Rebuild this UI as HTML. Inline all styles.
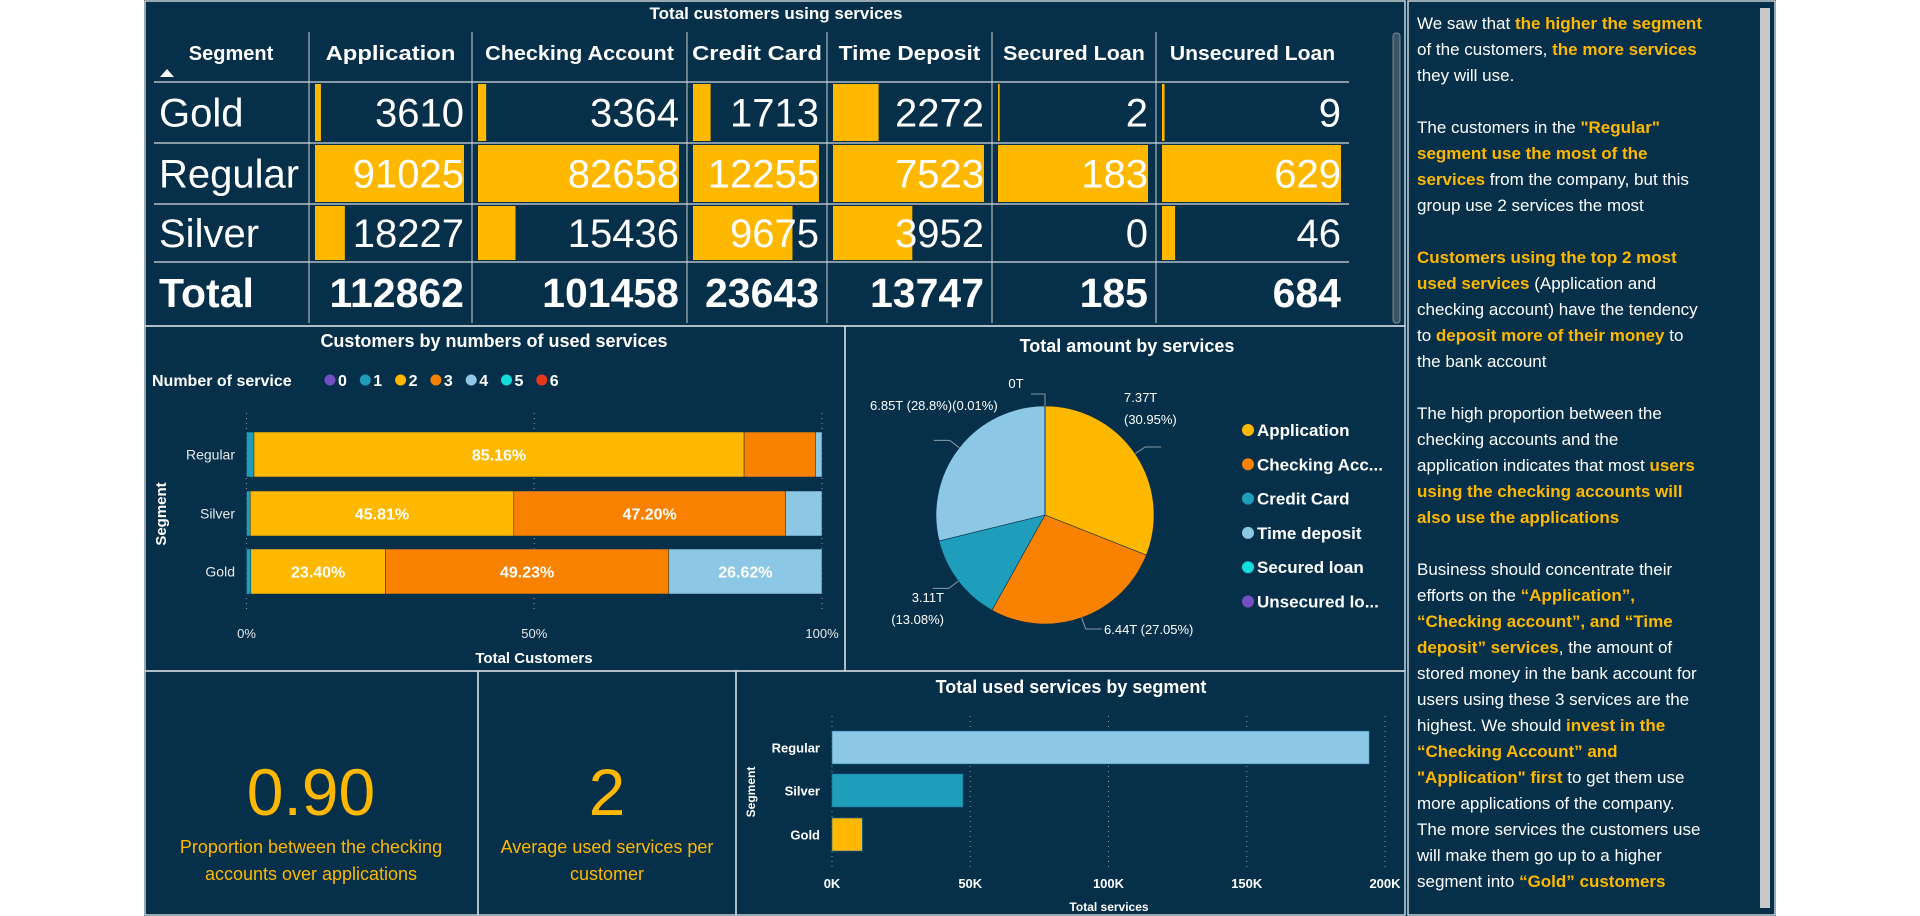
<!DOCTYPE html>
<html><head><meta charset="utf-8">
<style>
html,body{margin:0;padding:0;background:#fff;width:1920px;height:916px;overflow:hidden}
#dash{position:absolute;left:144px;top:0;width:1632px;height:916px;background:#06304a}
svg{position:absolute;left:0;top:0}
#notes{position:absolute;left:1417px;top:11px;width:345px;font-family:"Liberation Sans",sans-serif;font-size:17px;line-height:26px;color:#fff;white-space:nowrap}
#notes b{color:#ffb800}
</style></head>
<body>
<div id="dash"></div>
<svg id="chart" width="1920" height="916"
  font-family="'Liberation Sans', sans-serif">
  <g id="frames" fill="none" stroke="#c9d1d8" stroke-width="1.5">
    <rect x="145" y="1" width="1260" height="325"/>
    <rect x="145" y="326" width="700" height="345"/>
    <rect x="845" y="326" width="560" height="345"/>
    <rect x="145" y="671" width="333" height="244"/>
    <rect x="478" y="671" width="258" height="244"/>
    <rect x="736" y="671" width="669" height="244"/>
    <rect x="1408" y="1" width="367" height="914"/>
  </g>
  <rect x="1760" y="8" width="10" height="900" fill="#c8c8c8"/>
  <rect x="1393" y="33" width="7" height="290" rx="3" fill="#3c5566" stroke="#7a8a96"/>
  <g id="table"></g>
  <g id="stack"></g>
  <g id="pie"></g>
  <g id="kpis"></g>
  <g id="bars"></g>
</svg>
<div id="notes">
We saw that <b>the higher the segment</b><br>
of the customers, <b>the more services</b><br>
they will use.<br><br>
The customers in the <b>"Regular"</b><br>
<b>segment use the most of the</b><br>
<b>services</b> from the company, but this<br>
group use 2 services the most<br><br>
<b>Customers using the top 2 most</b><br>
<b>used services</b> (Application and<br>
checking account) have the tendency<br>
to <b>deposit more of their money</b> to<br>
the bank account<br><br>
The high proportion between the<br>
checking accounts and the<br>
application indicates that most <b>users</b><br>
<b>using the checking accounts will</b><br>
<b>also use the applications</b><br><br>
Business should concentrate their<br>
efforts on the <b>“Application”,</b><br>
<b>“Checking account”, and “Time</b><br>
<b>deposit” services</b>, the amount of<br>
stored money in the bank account for<br>
users using these 3 services are the<br>
highest. We should <b>invest in the</b><br>
<b>“Checking Account” and</b><br>
<b>"Application" first</b> to get them use<br>
more applications of the company.<br>
The more services the customers use<br>
will make them go up to a higher<br>
segment into <b>“Gold” customers</b>
</div>
<script>
// ---------- DATA ----------
const tableSegments = ["Gold", "Regular", "Silver"];
const tableServices = ["Application", "Checking Account", "Credit Card", "Time Deposit", "Secured Loan", "Unsecured Loan"];
const tableGold = [3610, 3364, 1713, 2272, 2, 9];
const tableRegular = [91025, 82658, 12255, 7523, 183, 629];
const tableSilver = [18227, 15436, 9675, 3952, 0, 46];
const tableTotal = [112862, 101458, 23643, 13747, 185, 684];

const stackSegments = ["Regular", "Silver", "Gold"];
const stackKeys = ["0", "1", "2", "3", "4", "5", "6"];
const stackRegular = [0, 1.3, 85.16, 12.4, 1.14, 0, 0];
const stackSilver = [0, 0.64, 45.81, 47.20, 6.35, 0, 0];
const stackGold = [0, 0.75, 23.40, 49.23, 26.62, 0, 0];
const stackTicks = [0, 50, 100];

const pieLabels = ["Application", "Checking Acc...", "Credit Card", "Time deposit", "Secured loan", "Unsecured lo..."];
const pieValues = [7.37, 6.44, 3.11, 6.85, 0.002, 0.001];
const piePercents = ["30.95%", "27.05%", "13.08%", "28.8%", "0.01%", "0%"];

const barSegments = ["Regular", "Silver", "Gold"];
const barValues = [194273, 47336, 10970];
const barTicks = [0, 50000, 100000, 150000, 200000];

const kpiRatio = "0.90";
const kpiAvg = "2";

// ---------- HELPERS ----------
const NS = "http://www.w3.org/2000/svg";
function mk(parent, tag, attrs, text) {
  const e = document.createElementNS(NS, tag);
  for (const k in attrs) e.setAttribute(k, attrs[k]);
  if (text !== undefined) e.textContent = text;
  parent.appendChild(e);
  return e;
}
const YEL = "#ffb800", NARROW = "'Liberation Sans Narrow','Liberation Sans',sans-serif";

// ---------- TABLE ----------
(function () {
  const g = document.getElementById("table");
  const cols = [154, 309, 472, 687, 827, 992, 1156, 1349];
  const lines = [82, 143, 204, 262];
  let t = mk(g, "text", {x: 776, y: 19, fill: "#fff", "font-size": 17, "font-weight": "bold", "text-anchor": "middle", "font-family": NARROW}, "Total customers using services");
  
  
  for (let i = 1; i < cols.length - 1; i++) {
    const l = mk(g, "line", {x1: cols[i], x2: cols[i], y1: 32, y2: 323, stroke: "#aab4bc", "stroke-width": 1.2});
    
    
  }
  lines.forEach(y => {
    const l = mk(g, "line", {x1: cols[0], x2: cols[7], y1: y, y2: y, stroke: "#d5d9dc", "stroke-width": 1.2});
    
    
  });
  t = mk(g, "text", {x: 231, y: 60, fill: "#fff", "font-size": 20, "font-weight": "bold", "text-anchor": "middle"}, "Segment");
  
  
  const tri = mk(g, "polygon", {points: "160,77 174,77 167,69", fill: "#fff"});
  
  
  tableServices.forEach((s, i) => {
    const h = mk(g, "text", {x: (cols[i + 1] + cols[i + 2]) / 2, y: 60, fill: "#fff", "font-size": 20, "font-weight": "bold", "text-anchor": "middle", textLength: Math.min(cols[i + 2] - cols[i + 1] - 10, s.length * 11.8), lengthAdjust: "spacingAndGlyphs"}, s);
    
    
  });
  const rows = [tableGold, tableRegular, tableSilver];
  const rowTop = [82, 143, 204], rowBot = [143, 204, 262];
  rows.forEach((vals, r) => {
    const mid = (rowTop[r] + rowBot[r]) / 2;
    const lab = mk(g, "text", {x: 159, y: mid + 14, fill: "#fff", "font-size": 40}, tableSegments[r]);
    
    
    vals.forEach((v, c) => {
      const x0 = cols[c + 1], x1 = cols[c + 2];
      const mx = Math.max(tableGold[c], tableRegular[c], tableSilver[c]);
      const w = (x1 - x0 - 14) * v / mx;
      const bar = mk(g, "rect", {x: x0 + 6, y: rowTop[r] + 2, width: Math.max(w, v > 0 ? 1 : 0), height: rowBot[r] - rowTop[r] - 4, fill: YEL});
      
      
      const tx = mk(g, "text", {x: x1 - 8, y: mid + 14, fill: "#fff", "font-size": 40, "text-anchor": "end"}, String(v));
      
      
    });
  });
  const tl = mk(g, "text", {x: 159, y: 307, fill: "#fff", "font-size": 41, "font-weight": "bold"}, "Total");
  
  
  tableTotal.forEach((v, c) => {
    const tx = mk(g, "text", {x: cols[c + 2] - 8, y: 307, fill: "#fff", "font-size": 41, "font-weight": "bold", "text-anchor": "end"}, String(v));
    
    
  });
})();

// ---------- STACKED BAR ----------
(function () {
  const g = document.getElementById("stack");
  const colors = ["#744ec2", "#1f9ebc", "#ffb800", "#f98100", "#8dc7e6", "#14dcdc", "#e8361a"];
  const x = p => 246.5 + p / 100 * 575.5;
  const rowsY = [432, 491, 549], bh = 45;
  let t = mk(g, "text", {x: 494, y: 347, fill: "#fff", "font-size": 18, "font-weight": "bold", "text-anchor": "middle", "font-family": NARROW}, "Customers by numbers of used services");
  
  
  t = mk(g, "text", {x: 152, y: 386, fill: "#fff", "font-size": 16, "font-weight": "bold", "font-family": NARROW}, "Number of service");
  
  
  stackKeys.forEach((k, i) => {
    const cx = 330 + i * 35.3;
    const c = mk(g, "circle", {cx: cx, cy: 380, r: 5.5, fill: colors[i]});
    
    
    const tx = mk(g, "text", {x: cx + 8, y: 386, fill: "#fff", "font-size": 16, "font-weight": "bold"}, k);
    
    
  });
  stackTicks.forEach(v => {
    const l = mk(g, "line", {x1: x(v), x2: x(v), y1: 413, y2: 613, stroke: "#8a9aa6", "stroke-dasharray": "1,4"});
    
    
    const tx = mk(g, "text", {x: x(v), y: 638, fill: "#e8e8e8", "font-size": 13, "text-anchor": "middle"}, v + "%");
    
    
  });
  const data = [stackRegular, stackSilver, stackGold];
  data.forEach((vals, r) => {
    let acc = 0;
    const y = rowsY[r];
    const lab = mk(g, "text", {x: 235, y: y + bh / 2 + 5, fill: "#e8e8e8", "font-size": 14, "text-anchor": "end"}, stackSegments[r]);
    
    
    vals.forEach((v, i) => {
      if (v <= 0) return;
      const rc = mk(g, "rect", {x: x(acc), y: y, width: x(acc + v) - x(acc), height: bh, fill: colors[i], stroke: "#06304a", "stroke-width": 0.5});
      
      
      if (v > 15) {
        const tx = mk(g, "text", {x: (x(acc) + x(acc + v)) / 2, y: y + bh / 2 + 6, fill: "#fff", "font-size": 16, "font-weight": "bold", "text-anchor": "middle"}, v.toFixed(2) + "%");
        
        
      }
      acc += v;
    });
  });
  t = mk(g, "text", {x: 534, y: 663, fill: "#fff", "font-size": 15, "font-weight": "bold", "text-anchor": "middle", "font-family": NARROW}, "Total Customers");
  
  
  t = mk(g, "text", {x: 0, y: 0, fill: "#fff", "font-size": 15, "font-weight": "bold", "text-anchor": "middle", transform: "translate(166,514) rotate(-90)"}, "Segment");
  
  
})();

// ---------- PIE ----------
(function () {
  const g = document.getElementById("pie");
  const colors = ["#ffb800", "#f98100", "#1f9ebc", "#8dc7e6", "#14dcdc", "#744ec2"];
  const cx = 1045, cy = 515, r = 109;
  const total = pieValues.reduce((a, b) => a + b, 0);
  let t = mk(g, "text", {x: 1127, y: 352, fill: "#fff", "font-size": 18, "font-weight": "bold", "text-anchor": "middle", "font-family": NARROW}, "Total amount by services");
  
  
  let a0 = -Math.PI / 2;
  const mids = [];
  pieValues.forEach((v, i) => {
    const a1 = a0 + v / total * 2 * Math.PI;
    const large = a1 - a0 > Math.PI ? 1 : 0;
    const d = `M${cx},${cy} L${cx + r * Math.cos(a0)},${cy + r * Math.sin(a0)} A${r},${r} 0 ${large} 1 ${cx + r * Math.cos(a1)},${cy + r * Math.sin(a1)} Z`;
    const p = mk(g, "path", {d: d, fill: colors[i], stroke: "#06304a", "stroke-width": 0.6});
    
    
    mids.push((a0 + a1) / 2);
    a0 = a1;
  });
  // short leader lines from slice mid-angles
  [[0, 1], [1, 1], [2, -1], [3, -1]].forEach(([i, dir]) => {
    const a = mids[i];
    const sx = cx + r * Math.cos(a), sy = cy + r * Math.sin(a);
    const bx = cx + (r + 12) * Math.cos(a), by = cy + (r + 12) * Math.sin(a);
    const l = mk(g, "polyline", {points: `${sx},${sy} ${bx},${by} ${bx + dir * 16},${by}`, fill: "none", stroke: "#8a9aa6", "stroke-width": 1});
    
    
  });
  const l0 = mk(g, "polyline", {points: `${cx - 14},${cy - r - 12} ${cx},${cy - r - 12} ${cx},${cy - r}`, fill: "none", stroke: "#8a9aa6", "stroke-width": 1});
  
  
  const lbl = (x, y, s, anchor) => {
    const tx = mk(g, "text", {x: x, y: y, fill: "#fff", "font-size": 13, "text-anchor": anchor || "start"}, s);
    
    
  };
  lbl(1124, 402, pieValues[0].toFixed(2) + "T");
  lbl(1124, 424, "(" + piePercents[0] + ")");
  lbl(1104, 634, pieValues[1].toFixed(2) + "T (" + piePercents[1] + ")");
  lbl(944, 602, pieValues[2].toFixed(2) + "T", "end");
  lbl(944, 624, "(" + piePercents[2] + ")", "end");
  lbl(870, 410, pieValues[3].toFixed(2) + "T (" + piePercents[3] + ")(" + piePercents[4] + ")");
  lbl(1016, 388, "0T", "middle");
  pieLabels.forEach((s, i) => {
    const y = 430 + i * 34.3;
    const c = mk(g, "circle", {cx: 1248, cy: y, r: 6, fill: colors[i]});
    
    
    const tx = mk(g, "text", {x: 1257, y: y + 6, fill: "#fff", "font-size": 17, "font-weight": "bold"}, s);
    
    
  });
})();

// ---------- KPIs ----------
(function () {
  const g = document.getElementById("kpis");
  const add = (x, y, s, size, name) => {
    const tx = mk(g, "text", {x: x, y: y, fill: YEL, "font-size": size, "text-anchor": "middle", "font-family": NARROW}, s);
    
    
  };
  add(311, 815, kpiRatio, 66, 'kpi-ratio-value');
  add(311, 853, "Proportion between the checking", 18, 'kpi-ratio-label');
  add(311, 880, "accounts over applications", 18, 'kpi-ratio-label');
  add(607, 815, kpiAvg, 66, 'kpi-average-value');
  add(607, 853, "Average used services per", 18, 'kpi-average-label');
  add(607, 880, "customer", 18, 'kpi-average-label');
})();

// ---------- BAR CHART ----------
(function () {
  const g = document.getElementById("bars");
  const colors = ["#8dc7e6", "#1f9ebc", "#ffb800"];
  const x = v => 832 + v / 200000 * 553;
  const ys = [731, 774, 818], bh = 33;
  let t = mk(g, "text", {x: 1071, y: 693, fill: "#fff", "font-size": 18, "font-weight": "bold", "text-anchor": "middle", "font-family": NARROW}, "Total used services by segment");
  
  
  barTicks.forEach(v => {
    const l = mk(g, "line", {x1: x(v), x2: x(v), y1: 716, y2: 870, stroke: "#8a9aa6", "stroke-dasharray": "1,4"});
    
    
    const tx = mk(g, "text", {x: x(v), y: 888, fill: "#fff", "font-size": 13, "font-weight": "bold", "text-anchor": "middle"}, (v / 1000) + "K");
    
    
  });
  barValues.forEach((v, i) => {
    const rc = mk(g, "rect", {x: x(0), y: ys[i], width: x(v) - x(0), height: bh, fill: colors[i], stroke: "#1a6f8e", "stroke-width": 0.6});
    
    
    const tx = mk(g, "text", {x: 820, y: ys[i] + bh / 2 + 5, fill: "#fff", "font-size": 13, "font-weight": "bold", "text-anchor": "end"}, barSegments[i]);
    
    
  });
  t = mk(g, "text", {x: 1109, y: 911, fill: "#fff", "font-size": 12, "font-weight": "bold", "text-anchor": "middle", "font-family": NARROW}, "Total services");
  
  
  t = mk(g, "text", {x: 0, y: 0, fill: "#fff", "font-size": 12, "font-weight": "bold", "text-anchor": "middle", transform: "translate(755,792) rotate(-90)"}, "Segment");
  
  
})();
</script>
</body></html>
